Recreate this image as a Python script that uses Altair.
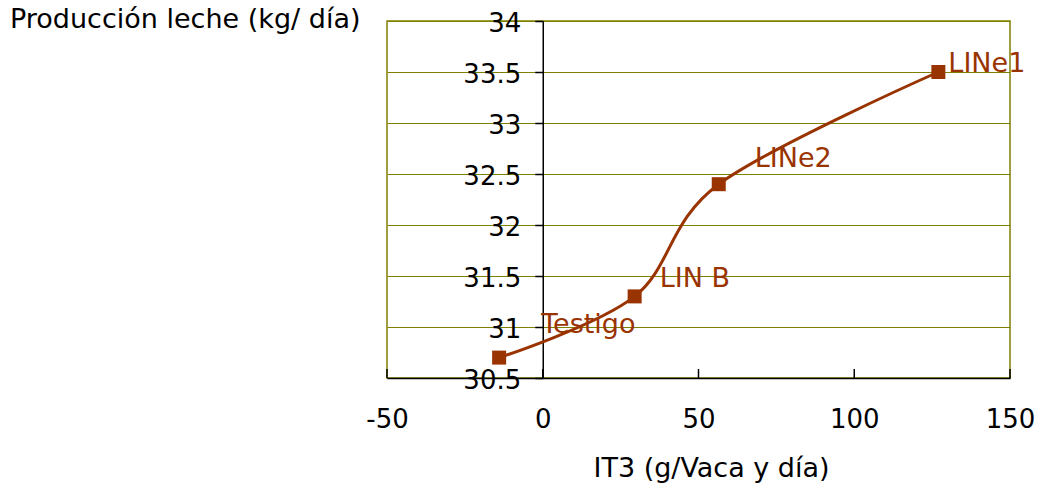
import altair as alt
import pandas as pd

# ---- data ----
TREATMENTS = ["Testigo", "LIN B", "LINe2", "LINe1"]
IT3 = [-14, 29.5, 56.5, 127]            # g/vaca y día
MILK = [30.7, 31.3, 32.4, 33.5]         # kg/día
X_TICKS = [-50, 0, 50, 100, 150]
Y_TICKS = [30.5, 31, 31.5, 32, 32.5, 33, 33.5, 34]
Y_TITLE = "Producción leche (kg/ día)"
X_TITLE = "IT3 (g/Vaca y día)"

# ---- style / layout constants ----
W, H = 623, 357
FONT = "DejaVu Sans"
FS = 26
FS_TXT = 27
RED = "#993300"
OLIVE = "#808000"
LABEL_OFFSETS = {"Testigo": (42, -25), "LIN B": (25, -9), "LINe2": (36, -17), "LINe1": (10, 0)}

df = pd.DataFrame({"name": TREATMENTS, "x": IT3, "y": MILK})
ticks_df = pd.DataFrame({"x": X_TICKS})
title_df = pd.DataFrame({"t": [Y_TITLE]})

xscale = alt.Scale(domain=[-50, 150], nice=False, zero=False)
yscale = alt.Scale(domain=[30.5, 34], nice=False, zero=False)

xenc = alt.X("x:Q", scale=xscale, axis=alt.Axis(
    values=X_TICKS, title=X_TITLE, grid=False, ticks=False, labelFlush=False,
    labelExpr="datum.value < 0 ? '-' + abs(datum.value) : datum.label",
    domainColor="black", domainWidth=1.5,
    labelFont=FONT, labelFontSize=FS, labelColor="black",
    labelBaseline="alphabetic", labelPadding=49,
    titleFont=FONT, titleFontSize=FS_TXT, titleFontWeight="normal", titleColor="black",
    titleBaseline="alphabetic", titleX=324, titleY=98, titleAnchor="middle",
))
yenc = alt.Y("y:Q", scale=yscale, axis=alt.Axis(
    values=Y_TICKS, title=None, format="~f", offset=-155.75, labelFlush=False,
    grid=True, gridColor=OLIVE, gridWidth=1,
    domainColor="black", domainWidth=1.5, tickColor="black", tickSize=8, tickWidth=1.5,
    labelFont=FONT, labelFontSize=FS, labelColor="black", labelPadding=14, labelOffset=2,
))

line = alt.Chart(df).mark_line(
    color=RED, strokeWidth=3, interpolate="cardinal", tension=0
).encode(x=xenc, y=yenc)

points = alt.Chart(df).mark_square(
    color=RED, size=196, opacity=1, filled=True
).encode(x="x:Q", y="y:Q")

xticks = alt.Chart(ticks_df).mark_rule(color="black", strokeWidth=1.5).encode(
    x="x:Q", y=alt.value(H - 9), y2=alt.value(H)
)

labels = []
for name, (dx, dy) in LABEL_OFFSETS.items():
    labels.append(
        alt.Chart(df).transform_filter(alt.datum.name == name).mark_text(
            align="left", baseline="alphabetic", dx=dx, dy=dy,
            font=FONT, fontSize=FS_TXT, color=RED
        ).encode(x="x:Q", y="y:Q", text="name:N")
    )

ytitle = alt.Chart(title_df).mark_text(
    align="left", baseline="alphabetic", font=FONT, fontSize=FS_TXT, color="black"
).encode(x=alt.value(-377), y=alt.value(7), text="t:N")

chart = alt.layer(line, xticks, points, *labels, ytitle).properties(
    width=W, height=H,
    padding={"left": 387, "top": 21, "right": 29, "bottom": 106},
    autosize=alt.AutoSizeParams(type="none"),
    background="white",
).configure_view(stroke=OLIVE, strokeWidth=1.5)

chart.save("out.html", embed_options={"renderer": "svg", "actions": False})
